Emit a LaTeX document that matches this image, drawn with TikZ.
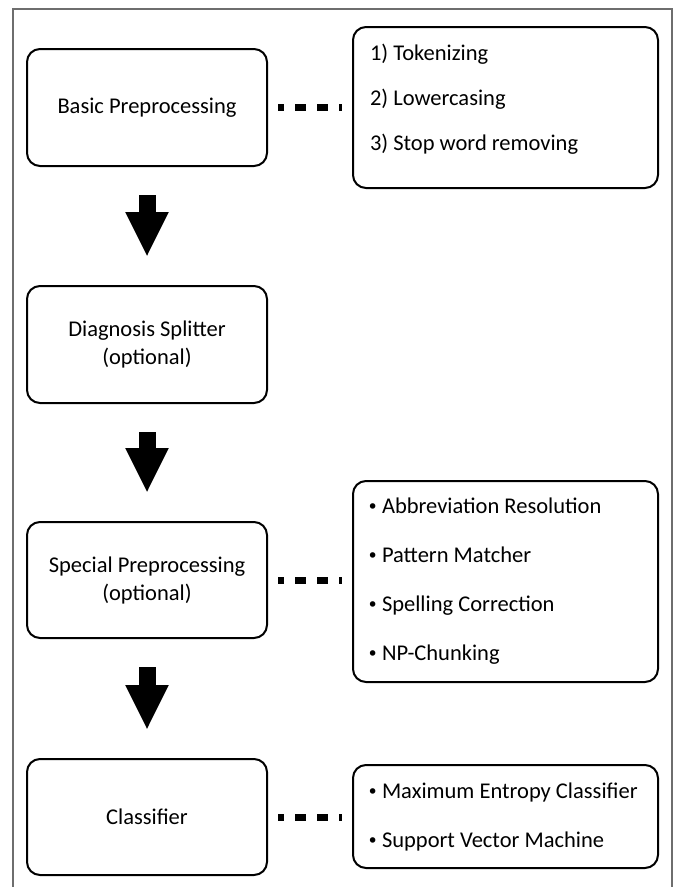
\documentclass[tikz,border=0pt]{standalone}
\usepackage{fontspec}
\setmainfont{Carlito}
\newfontfamily\bulletfont{DejaVu Sans}
\usetikzlibrary{arrows.meta, positioning}
\definecolor{framegray}{HTML}{6E6E6E}
\newcommand{\itm}[1]{\mbox{\hspace*{-3pt}\makebox[15pt][l]{\bulletfont\fontsize{19}{19}\selectfont •}#1}}

\begin{document}
\begin{tikzpicture}[x=1pt, y=-1pt,
  stagebox/.style={draw, line width=2pt, rounded corners=13pt,
    minimum width=240pt, minimum height=117pt, inner sep=0pt,
    align=center, font=\fontsize{22.5}{28}\selectfont},
  listbox/.style={draw, line width=2pt, rounded corners=13pt,
    minimum width=305pt, text width=271pt, inner xsep=17pt, inner ysep=0pt,
    align=flush left, font=\fontsize{22.5}{28}\selectfont},
  bigarrow/.style={line width=17pt, -{Triangle[length=45pt, width=40pt]},
    shorten <=28pt, shorten >=28pt},
  dotline/.style={line width=7pt, dash pattern=on 11pt off 11pt,
    dash phase=5pt, shorten <=10pt, shorten >=10pt}
]
  \useasboundingbox (0,0) rectangle (678,887);

  % Outer frame, open at the bottom
  \draw[framegray, line width=1.5pt] (13,887) -- (13,9) -- (672,9) -- (672,887);

  % Pipeline stages
  \node[stagebox] (basic) at (147,107.5) {Basic Preprocessing};
  \node[stagebox] (splitter) at (147,344.5) {Diagnosis Splitter\\(optional)};
  \node[stagebox, minimum height=116pt] (special) at (147,580)
    {Special Preprocessing\\(optional)};
  \node[stagebox, minimum height=116pt] (classifier) at (147,817) {Classifier};

  % Detail boxes on the right
  \node[listbox, minimum height=161pt] (steps) at (505.5,107.5)
    {1) Tokenizing\\[17pt]2) Lowercasing\\[17pt]3) Stop word removing\rule[-19.5pt]{0pt}{1pt}};
  \node[listbox, minimum height=201pt] (methods) at (505.5,581.5)
    {\itm{Abbreviation Resolution}\\[21pt]\itm{Pattern Matcher}\\[21pt]%
     \itm{Spelling Correction}\\[21pt]\itm{NP-Chunking}};
  \node[listbox, minimum height=103pt] (models) at (505.5,816.5)
    {\itm{Maximum Entropy Classifier}\\[21pt]\itm{Support Vector Machine}};

  % Block arrows between the stages
  \draw[bigarrow] (basic) -- (splitter);
  \draw[bigarrow] (splitter) -- (special);
  \draw[bigarrow] (special) -- (classifier);

  % Dotted links to the detail boxes
  \draw[dotline] (basic.east) -- (basic.east -| steps.west);
  \draw[dotline] (special.east) -- (special.east -| methods.west);
  \draw[dotline] (classifier.east) -- (classifier.east -| models.west);
\end{tikzpicture}
\end{document}
